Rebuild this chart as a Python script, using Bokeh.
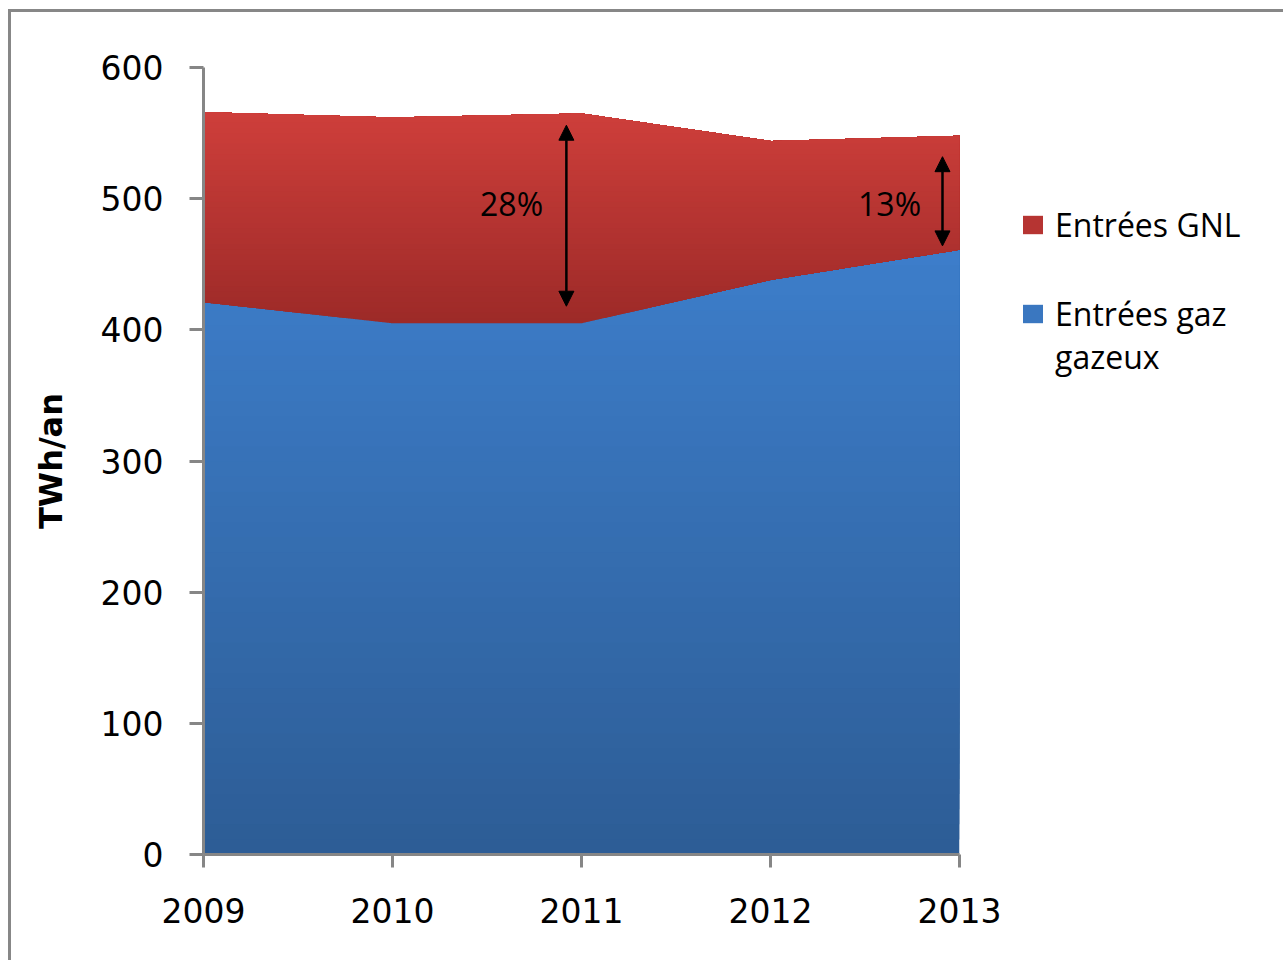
import numpy as np
from bokeh.plotting import figure
from bokeh.models import Legend, LegendItem, Arrow, NormalHead, FixedTicker, Label
from bokeh.embed import file_html
from bokeh.resources import INLINE

# ---- data (TWh/an) ----
years = [2009, 2010, 2011, 2012, 2013]
gaz_gazeux = [421, 405, 405, 438, 461]
gnl = [145, 157, 160, 106, 87]
tick_years = [2009, 2010, 2011, 2012, 2013]
y_ticks = [0, 100, 200, 300, 400, 500, 600]

# annotations: arrows showing GNL share
arrow_x = [2010.92, 2012.91]
arrow_y0 = [418, 464]
arrow_y1 = [556, 532]
pct_labels = ["28%", "13%"]
pct_x = [2010.63, 2012.63]
pct_y = [496, 496]

red_top, red_bot = (207, 63, 59), (157, 42, 40)
blue_top, blue_bot = (61, 126, 203), (45, 93, 150)

p = figure(frame_width=756, frame_height=787,
           x_range=(2009, 2013), y_range=(0, 600),
           output_backend="svg", toolbar_location=None,
           min_border_left=192, min_border_top=55,
           min_border_right=310, min_border_bottom=106)
p.styles = {"border-top": "3px solid #878787", "border-left": "3px solid #878787",
            "margin-left": "8px", "margin-top": "9px"}
p.outline_line_color = None
p.background_fill_color = "white"
p.border_fill_color = "white"

# ---- stacked areas with vertical gradients ----
xs = np.linspace(years[0], years[-1], 1201)
base = np.zeros_like(xs)
g_lo = base
g_hi = np.interp(xs, years, gaz_gazeux)
total = np.array(gaz_gazeux) + np.array(gnl)
r_lo = g_hi
r_hi = np.interp(xs, years, total)


def mix(c0, c1, t):
    return "#%02x%02x%02x" % tuple(int(round(a + (b - a) * t)) for a, b in zip(c0, c1))


def gradient_area(lo, hi, ctop, cbot, n=40):
    ymin, ymax = lo.min(), hi.max()
    rends = []
    for k in range(n):
        t = k / n
        thr = ymin + (ymax - ymin) * t
        y1 = np.minimum(np.maximum(lo, thr), hi)
        col = mix(cbot, ctop, t)
        r = p.varea(x=xs, y1=y1, y2=hi, fill_color=col)
        rends.append(r)
    return rends


blue_r = gradient_area(g_lo, g_hi, blue_top, blue_bot)
red_r = gradient_area(r_lo, r_hi, red_top, red_bot)

# arrows
for xa, ya0, ya1 in zip(arrow_x, arrow_y0, arrow_y1):
    p.add_layout(Arrow(x_start=xa, y_start=ya0, x_end=xa, y_end=ya1,
                       line_color="black", line_width=2.5,
                       start=NormalHead(size=15, fill_color="black", line_color="black"),
                       end=NormalHead(size=15, fill_color="black", line_color="black")))
for txt, xl, yl in zip(pct_labels, pct_x, pct_y):
    p.add_layout(Label(x=xl, y=yl, text=txt, text_align="center", text_baseline="middle",
                       text_font="Open Sans", text_font_size="32px", text_color="black"))

# ---- axes ----
axis_color = "#868686"
p.xaxis.ticker = FixedTicker(ticks=tick_years)
p.yaxis.ticker = FixedTicker(ticks=y_ticks)
p.xaxis.minor_tick_line_color = None
p.yaxis.minor_tick_line_color = None
for ax in (p.xaxis, p.yaxis):
    ax.axis_line_color = axis_color
    ax.axis_line_width = 3
    ax.major_tick_line_color = axis_color
    ax.major_tick_line_width = 3
    ax.major_tick_in = 0
    ax.major_label_text_font = "DejaVu Sans"
    ax.major_label_text_font_size = "33px"
    ax.major_label_text_color = "black"
p.yaxis.major_tick_out = 14
p.xaxis.major_tick_out = 13
p.yaxis.major_label_standoff = 26
p.xaxis.major_label_standoff = 30
p.yaxis.axis_label = "TWh/an"
p.yaxis.axis_label_text_font = "DejaVu Sans"
p.yaxis.axis_label_text_font_style = "bold"
p.yaxis.axis_label_text_font_size = "32px"
p.yaxis.axis_label_text_color = "black"
p.yaxis.axis_label_standoff = 28

p.xgrid.grid_line_color = None
p.ygrid.grid_line_color = axis_color
p.ygrid.grid_line_width = 3
p.ygrid.level = "underlay"

# ---- legend ----
legend = Legend(items=[
    LegendItem(label="Entrées GNL", renderers=[red_r[len(red_r) // 2]]),
    LegendItem(label="\nEntrées gaz\ngazeux", renderers=[blue_r[int(len(blue_r) * 0.8)]]),
], location=(61, 476))
legend.label_text_font = "Open Sans"
legend.label_text_font_size = "32px"
legend.label_text_color = "black"
legend.glyph_width = 25
legend.glyph_height = 23
legend.label_standoff = 10
legend.spacing = 3
legend.padding = 0
legend.margin = 0
legend.border_line_color = None
legend.background_fill_alpha = 0
p.add_layout(legend, "right")

open("out.html", "w").write(file_html(p, INLINE))
